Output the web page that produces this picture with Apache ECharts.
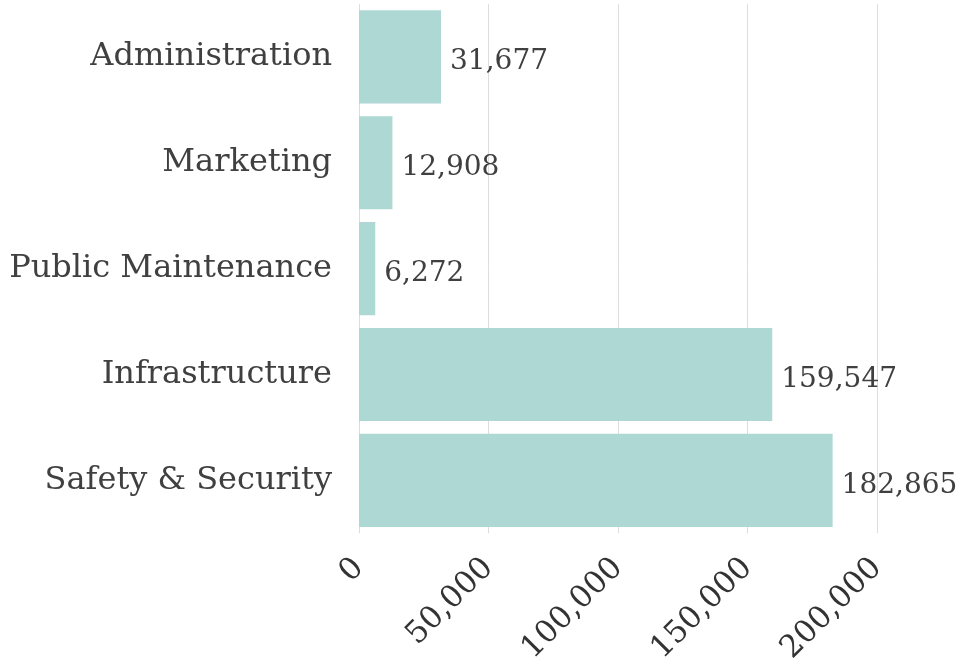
<!DOCTYPE html>
<html>
<head>
<meta charset="utf-8">
<script src="https://cdn.jsdelivr.net/npm/echarts@6/dist/echarts.min.js"></script>
<style>
    html, body {margin: 0; padding: 0; background: #fff;}
    #bar_table {width: 965px; height: 667px;}
</style>
</head>
<body>
<div id="bar_table"></div>
<script>
    var categories = ['Administration', 'Marketing', 'Public Maintenance', 'Infrastructure', 'Safety & Security'];
    var values = [31677, 12908, 6272, 159547, 182865];
    var tickValues = [0, 50000, 100000, 150000, 200000];

    function fmt(n) {
        return n.toLocaleString('en-US');
    }

    var fontName = 'DejaVu Serif';
    var bar_table = echarts.init(document.getElementById('bar_table'));
    var option = {
        animation: false,
        textStyle: {fontFamily: fontName},
        grid: {
            left: 359,
            right: 88,
            top: 4,
            bottom: 132,
            containLabel: false
        },
        xAxis: {
            type: 'value',
            min: tickValues[0],
            max: tickValues[tickValues.length - 1],
            interval: 50000,
            axisLine: {show: false},
            axisTick: {show: false},
            splitLine: {lineStyle: {color: '#dddddd', width: 1}},
            axisLabel: {
                rotate: 45,
                margin: 30,
                color: '#333333',
                fontFamily: fontName,
                fontSize: 31,
                formatter: function (v) { return fmt(v); }
            }
        },
        yAxis: {
            type: 'category',
            data: categories,
            inverse: true,
            axisLine: {show: false},
            axisTick: {show: false},
            axisLabel: {
                margin: 27,
                color: '#404040',
                fontFamily: fontName,
                fontSize: 32
            }
        },
        series: [{
            type: 'bar',
            data: values,
            barCategoryGap: '12%',
            itemStyle: {color: '#aed8d3'},
            label: {
                show: true,
                position: 'right',
                distance: 9,
                offset: [0, 5],
                color: '#404040',
                fontFamily: fontName,
                fontSize: 28,
                formatter: function (p) { return fmt(p.value); }
            }
        }]
    };
    bar_table.setOption(option);
</script>
</body>
</html>
